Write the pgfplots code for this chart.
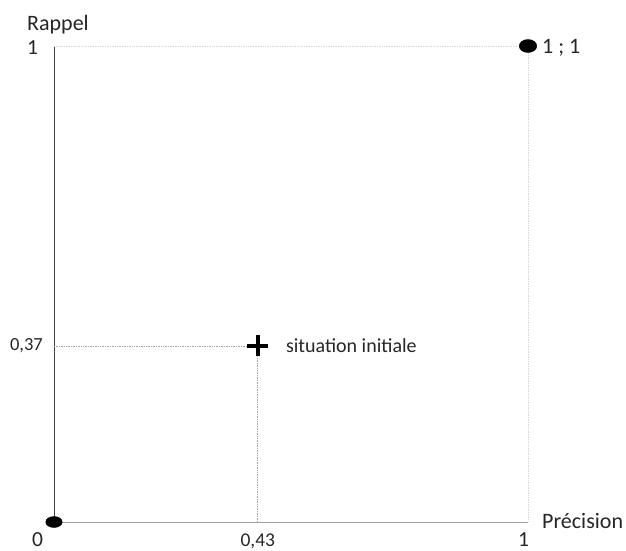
\documentclass[border=0pt]{standalone}
\usepackage{fontspec}
\setmainfont{Carlito}
\usepackage{pgfplots}
\pgfplotsset{compat=1.18}
\definecolor{txt}{HTML}{262626}
\begin{document}
\begin{tikzpicture}
\path[use as bounding box] (-54pt,-28pt) rectangle (572pt,522pt);
\begin{axis}[
  anchor=south west, at={(0pt,0pt)},
  scale only axis, width=474pt, height=476pt,
  xmin=0, xmax=1, ymin=0, ymax=1,
  axis x line=bottom, axis y line=left,
  axis line style={-},
  x axis line style={draw=gray!75, line width=0.8pt},
  y axis line style={draw=black!75, line width=0.8pt},
  clip=false,
  major tick length=0pt,
  xtick={0.43}, xticklabels={0{,}43},
  ytick={0.37}, yticklabels={0{,}37},
  x tick label style={font=\fontsize{19.5}{19.5}\selectfont, text=txt, anchor=base, inner sep=0pt, yshift=-24pt},
  y tick label style={font=\fontsize{18.5}{18.5}\selectfont, text=txt, anchor=base east, inner sep=0pt, xshift=-11pt, yshift=-5pt},
]
% light frame lines at 1
\addplot[gray!30, densely dotted, line width=0.7pt] coordinates {(0,1) (1,1) (1,0)};
% guide lines to the initial situation
\addplot[gray!70, densely dotted, line width=0.7pt] coordinates {(0,0.37) (0.43,0.37) (0.43,0)};
% points
\addplot[only marks, mark=*, mark size=5.5pt, mark options={xscale=1.5, fill=black, draw=black}] coordinates {(0,0)};
\addplot[only marks, mark=*, mark size=6.5pt, mark options={xscale=1.35, fill=black, draw=black}] coordinates {(1,1)};
\addplot[only marks, mark=+, mark size=10.5pt, mark options={line width=3.5pt, draw=black}] coordinates {(0.43,0.37)};
% labels
\node[anchor=base west, inner sep=0pt, text=txt, font=\fontsize{22}{22}\selectfont] at ([shift={(-27pt,15pt)}]axis cs:0,1) {Rappel};
\node[anchor=base west, inner sep=0pt, text=txt, font=\fontsize{21.5}{21.5}\selectfont] at ([shift={(-27pt,-9pt)}]axis cs:0,1) {1};
\node[anchor=base west, inner sep=0pt, text=txt, font=\fontsize{21.5}{21.5}\selectfont] at ([shift={(-22pt,-24pt)}]axis cs:0,0) {0};
\node[anchor=base west, inner sep=0pt, text=txt, font=\fontsize{21.5}{21.5}\selectfont] at ([shift={(-10pt,-24pt)}]axis cs:1,0) {1};
\node[anchor=base west, inner sep=0pt, text=txt, font=\fontsize{22}{22}\selectfont] at ([shift={(14pt,-6pt)}]axis cs:1,0) {Précision};
\node[anchor=base west, inner sep=0pt, text=txt, font=\fontsize{22}{22}\selectfont] at ([shift={(14pt,-8pt)}]axis cs:1,1) {1 ; 1};
\node[anchor=base west, inner sep=0pt, text=txt, font=\fontsize{20}{20}\selectfont] at ([shift={(28pt,-7pt)}]axis cs:0.43,0.37) {situation initiale};
\end{axis}
\end{tikzpicture}
\end{document}
